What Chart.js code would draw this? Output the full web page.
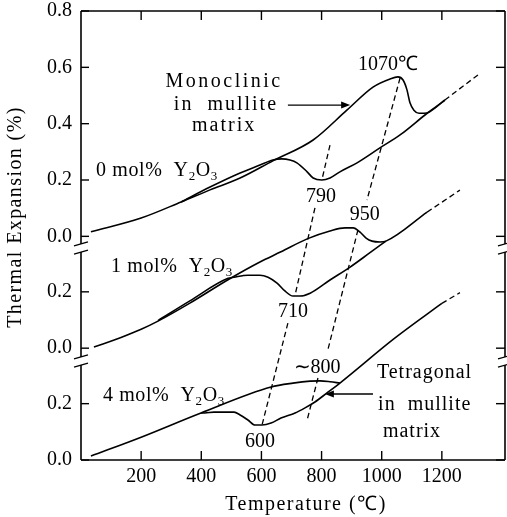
<!DOCTYPE html>
<html><head><meta charset="utf-8">
<script src="https://cdn.jsdelivr.net/npm/chart.js@4.4.1/dist/chart.umd.min.js"></script>
<style>html,body{margin:0;padding:0;background:#fff;}canvas{display:block;}</style>
</head><body>
<canvas id="c" width="507" height="517" style="width:507px;height:517px"></canvas>
<script>
// ---------------- data (temperature in °C, thermal expansion in %) ----------------
// 0 mol% Y2O3
const heat0T = [33,200,333,429,529,638,772,885,971,1028,1054,1071,1084,1094,1107,1124,1151,1180,1210];
const heat0V = [0.016,0.065,0.122,0.165,0.207,0.268,0.342,0.449,0.530,0.559,0.566,0.555,0.520,0.474,0.448,0.437,0.438,0.458,0.484];
const cool0T = [333,429,529,595,638,668,695,718,752,772,801,828,861,918,994,1061,1151,1180,1210];
const cool0V = [0.122,0.175,0.225,0.253,0.271,0.275,0.271,0.261,0.229,0.207,0.200,0.207,0.229,0.261,0.314,0.360,0.437,0.460,0.484];
const ext0T = [1210,1320];
const ext0V = [0.484,0.573];
// 1 mol% Y2O3
const heat1T = [43,133,200,256,362,489,595,665,752,828,878,905,928,948,968,994,1014,1151];
const heat1V = [0.004,0.038,0.067,0.096,0.160,0.243,0.306,0.342,0.388,0.416,0.427,0.427,0.412,0.391,0.380,0.377,0.380,0.483];
const cool1T = [256,362,489,509,555,595,622,652,678,705,728,762,828,895,961,1014];
const cool1V = [0.098,0.168,0.248,0.252,0.259,0.259,0.252,0.231,0.203,0.185,0.185,0.195,0.242,0.288,0.339,0.380];
const ext1T = [1151,1260];
const ext1V = [0.483,0.561];
// 4 mol% Y2O3
const heat4T = [33,200,399,632,705,762,795,828,861];
const heat4V = [0.014,0.081,0.167,0.259,0.273,0.280,0.281,0.278,0.273];
const cool4T = [399,412,442,509,529,555,579,602,632,665,712,745,778,818,861,1038,1151,1200];
const cool4V = [0.167,0.167,0.170,0.170,0.160,0.142,0.124,0.124,0.131,0.149,0.167,0.185,0.206,0.238,0.273,0.428,0.518,0.556];
const ext4T = [1200,1260];
const ext4V = [0.556,0.594];
// transformation-temperature guide lines (T, level on the stacked axis)
const guideLowT  = [[828,801],[778,712],[688,602]];
const guideLowV  = [[0.324,0.200],[0.101,-0.208],[-0.308,-0.670]];
const guideHighT = [[1061,951],[921,821],[788,752]];
const guideHighV = [[0.562,0.129],[0.023,-0.403],[-0.503,-0.652]];
// axis ticks
const xTickVals = [200,400,600,800,1000,1200];
const yTickLocal = [[0,0.2,0.4,0.6,0.8],[0,0.2],[0,0.2]];

// ---------------- layout of the three stacked panels ----------------
const PANEL_SHIFT = [0, -0.397, -0.794];
const Y_MIN = -0.794, Y_MAX = 0.8, X_MIN = 0, X_MAX = 1410;
const BREAKS = [[-0.027,-0.056],[-0.428,-0.457]];

const yTickVals = [], yTickLabels = [];
yTickLocal.forEach((arr,p)=>arr.forEach(v=>{yTickVals.push(v+PANEL_SHIFT[p]); yTickLabels.push(v.toFixed(1));}));

function pts(T,V,shift){return T.map((t,i)=>({x:t,y:V[i]+shift}));}
function curve(T,V,shift){return {data:pts(T,V,shift),showLine:true,pointRadius:0,borderColor:'#000',borderWidth:1.6,cubicInterpolationMode:'monotone',fill:false};}
function dashed(T,V,shift){return {data:pts(T,V,shift),showLine:true,pointRadius:0,borderColor:'#000',borderWidth:1.3,borderDash:[5.5,3.5],tension:0,fill:false};}

const datasets = [
  curve(heat0T,heat0V,PANEL_SHIFT[0]), curve(cool0T,cool0V,PANEL_SHIFT[0]), dashed(ext0T,ext0V,PANEL_SHIFT[0]),
  curve(heat1T,heat1V,PANEL_SHIFT[1]), curve(cool1T,cool1V,PANEL_SHIFT[1]), dashed(ext1T,ext1V,PANEL_SHIFT[1]),
  curve(heat4T,heat4V,PANEL_SHIFT[2]), curve(cool4T,cool4V,PANEL_SHIFT[2]), dashed(ext4T,ext4V,PANEL_SHIFT[2])
];
guideLowT.forEach((T,i)=>datasets.push(dashed(T,guideLowV[i],0)));
guideHighT.forEach((T,i)=>datasets.push(dashed(T,guideHighV[i],0)));

// ---------------- annotations (anchored at data coordinates) ----------------
const FONT = '"Liberation Serif","Times New Roman",serif';
const notes = [
  {x:1021,y:0.591,align:'center',parts:[['1070℃']],ls:0},
  {x:476,y:0.530,align:'center',parts:[['Monoclinic']],ls:2.5},
  {x:482,y:0.449,align:'center',parts:[['in  mullite']],ls:2},
  {x:476,y:0.374,align:'center',parts:[['matrix']],ls:2},
  {x:50,y:0.214,align:'left',parts:[['0 mol%  Y'],['2',1],['O'],['3',1]],ls:0.6},
  {x:798,y:0.122,align:'center',parts:[['790']],ls:0},
  {x:944,y:0.058,align:'center',parts:[['950']],ls:0},
  {x:100,y:-0.1265,align:'left',parts:[['1 mol%  Y'],['2',1],['O'],['3',1]],ls:0.6},
  {x:705,y:-0.286,align:'center',parts:[['710']],ls:0},
  {x:73,y:-0.584,align:'left',parts:[['4 mol%  Y'],['2',1],['O'],['3',1]],ls:0.6},
  {x:595,y:-0.748,align:'center',parts:[['600']],ls:0},
  {x:785,y:-0.485,align:'center',parts:[['∼800']],ls:0},
  {x:984,y:-0.503,align:'left',parts:[['Tetragonal']],ls:1},
  {x:988,y:-0.616,align:'left',parts:[['in  mullite']],ls:1},
  {x:1004,y:-0.712,align:'left',parts:[['matrix']],ls:1}
];
const arrows = [
  {from:[688,0.466],to:[895,0.466]},
  {from:[971,-0.5596],to:[811,-0.5596]}
];

function drawParts(ctx,parts,x,y,align,ls){
  ctx.letterSpacing = ls+'px';
  const fonts = parts.map(p=>p[1]?'13px '+FONT:'20px '+FONT);
  let w=0; const ws=parts.map((p,i)=>{ctx.font=fonts[i];const m=ctx.measureText(p[0]).width;w+=m;return m;});
  let cx = align==='center'? x-w/2 : x;
  ctx.textAlign='left'; ctx.textBaseline='alphabetic';
  parts.forEach((p,i)=>{ctx.font=fonts[i]; ctx.fillText(p[0],cx,y+(p[1]?4:0)); cx+=ws[i];});
  ctx.letterSpacing='0px';
}

const decor = {
  id:'decor',
  afterDatasetsDraw(chart){
    const {ctx, chartArea:a, scales:{x,y}} = chart;
    ctx.save();
    ctx.strokeStyle='#000'; ctx.fillStyle='#000'; ctx.lineWidth=1.6; ctx.setLineDash([]);
    const L=(x1,y1,x2,y2)=>{ctx.beginPath();ctx.moveTo(x1,y1);ctx.lineTo(x2,y2);ctx.stroke();};
    // frame
    L(a.left,a.top,a.right,a.top); L(a.left,a.bottom,a.right,a.bottom);
    const bp = BREAKS.map(b=>[y.getPixelForValue(b[0]),y.getPixelForValue(b[1])]);
    [a.left,a.right].forEach(ax=>{
      L(ax,a.top,ax,bp[0][0]); L(ax,bp[0][1],ax,bp[1][0]); L(ax,bp[1][1],ax,a.bottom);
      ctx.lineWidth=1.2;
      bp.forEach(b=>b.forEach(py=>L(ax-7,py+2,ax+7,py-2)));
      ctx.lineWidth=1.6;
    });
    // ticks
    ctx.lineWidth=1.4;
    xTickVals.forEach(v=>{const px=x.getPixelForValue(v); L(px,a.bottom,px,a.bottom-9); L(px,a.top,px,a.top+9);});
    yTickVals.forEach(v=>{const py=y.getPixelForValue(v); L(a.left,py,a.left+8,py); L(a.right,py,a.right-9,py);});
    // arrows
    ctx.lineWidth=1.4;
    arrows.forEach(ar=>{
      const x1=x.getPixelForValue(ar.from[0]), y1=y.getPixelForValue(ar.from[1]);
      const x2=x.getPixelForValue(ar.to[0]), y2=y.getPixelForValue(ar.to[1]);
      const d=Math.sign(x2-x1);
      L(x1,y1,x2-d*6,y2);
      ctx.beginPath(); ctx.moveTo(x2,y2); ctx.lineTo(x2-d*9,y2-3.5); ctx.lineTo(x2-d*9,y2+3.5); ctx.closePath(); ctx.fill();
    });
    // text notes
    notes.forEach(n=>drawParts(ctx,n.parts,x.getPixelForValue(n.x),y.getPixelForValue(n.y),n.align,n.ls));
    // axis titles
    ctx.font='20px '+FONT; ctx.letterSpacing='1.5px';
    ctx.textAlign='center'; ctx.textBaseline='alphabetic';
    ctx.fillText('Temperature (℃)', 306, 510);
    ctx.save(); ctx.translate(21,217); ctx.rotate(-Math.PI/2);
    ctx.letterSpacing='1.4px';
    ctx.fillText('Thermal Expansion (%)',0,0);
    ctx.restore();
    ctx.restore();
  }
};

new Chart(document.getElementById('c'),{
  type:'scatter',
  data:{datasets},
  options:{
    responsive:false, animation:false, devicePixelRatio:1,
    layout:{padding:{left:0,right:2,top:11,bottom:0}},
    plugins:{legend:{display:false},tooltip:{enabled:false}},
    scales:{
      x:{type:'linear',min:X_MIN,max:X_MAX,
        grid:{display:false,drawTicks:false},border:{display:false},
        afterBuildTicks:s=>{s.ticks=xTickVals.map(v=>({value:v}));},
        afterFit:s=>{s.height=57;s.paddingLeft=0;s.paddingRight=0;},
        ticks:{autoSkip:false,maxRotation:0,padding:5,color:'#000',font:{family:FONT,size:20},callback:v=>String(v)}},
      y:{type:'linear',min:Y_MIN,max:Y_MAX,
        grid:{display:false,drawTicks:false},border:{display:false},
        afterBuildTicks:s=>{s.ticks=yTickVals.map(v=>({value:v}));},
        afterFit:s=>{s.width=81;s.paddingTop=0;s.paddingBottom=0;},
        ticks:{autoSkip:false,padding:9,color:'#000',font:{family:FONT,size:20},callback:(v,i)=>yTickLabels[i]}}
    }
  },
  plugins:[decor]
});
</script></body></html>
